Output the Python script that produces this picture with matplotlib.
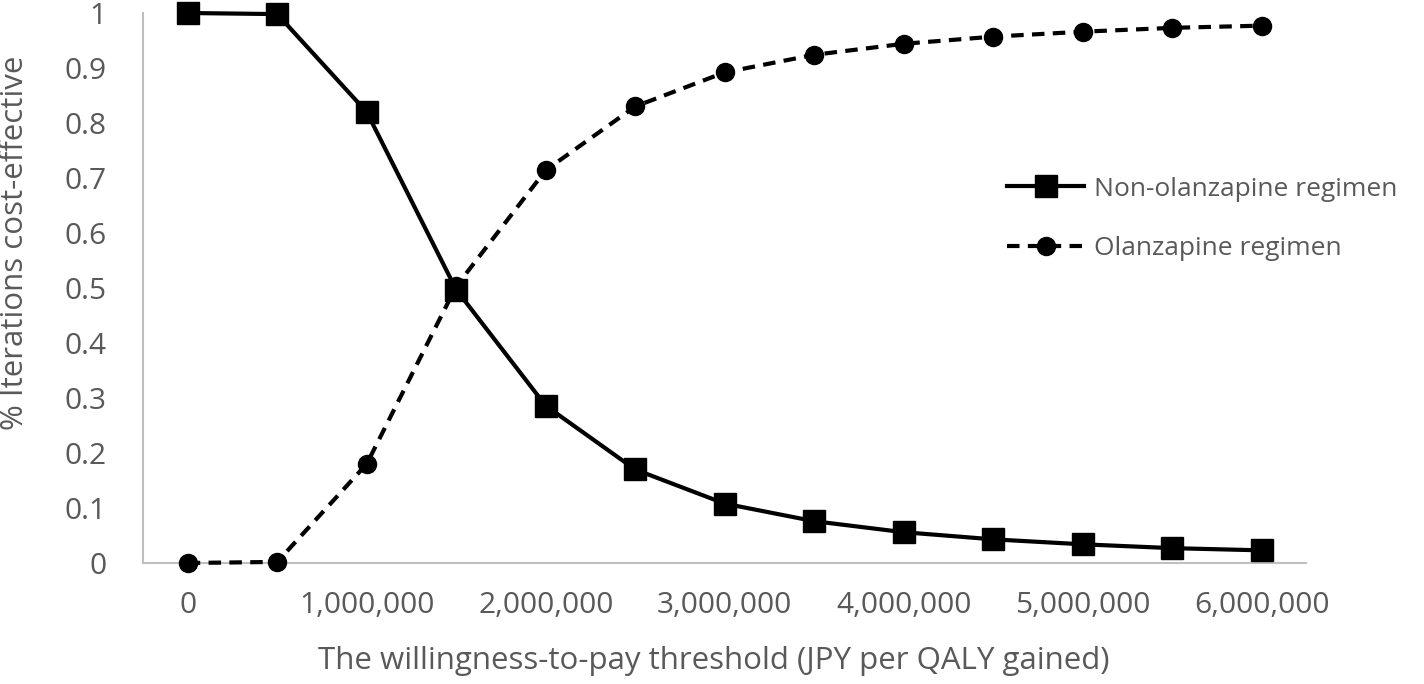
import matplotlib
matplotlib.use("Agg")
import matplotlib.pyplot as plt

wtp_labels = ["0", "", "1,000,000", "", "2,000,000", "", "3,000,000", "",
              "4,000,000", "", "5,000,000", "", "6,000,000"]
non_olanzapine = [1.0, 0.998, 0.82, 0.497, 0.286, 0.17, 0.108, 0.076, 0.056, 0.043, 0.034, 0.027, 0.023]
olanzapine = [0.0, 0.002, 0.18, 0.503, 0.714, 0.83, 0.892, 0.924, 0.944, 0.957, 0.966, 0.973, 0.977]
y_ticks = [0, 0.1, 0.2, 0.3, 0.4, 0.5, 0.6, 0.7, 0.8, 0.9, 1]
y_tick_labels = ["0", "0.1", "0.2", "0.3", "0.4", "0.5", "0.6", "0.7", "0.8", "0.9", "1"]

plt.rcParams['font.family'] = ['Open Sans', 'DejaVu Sans']
gray = '#595959'

fig = plt.figure(figsize=(14.24, 6.84), dpi=100)
ax = fig.add_axes([0.1004, 0.1769, 0.8170, 0.8041])
x = list(range(len(non_olanzapine)))

ax.plot(x, non_olanzapine, color='black', lw=3, marker='s', markersize=16,
        label='Non-olanzapine regimen', clip_on=False, zorder=3)
ax.plot(x, olanzapine, color='black', lw=3, linestyle=(0, (3, 2)), marker='o',
        markersize=13, label='Olanzapine regimen', clip_on=False, zorder=3)

ax.set_xlim(-0.5, len(x) - 0.5)
ax.set_ylim(0, 1)
ax.set_xticks(x)
ax.set_xticklabels(wtp_labels)
ax.set_yticks(y_ticks)
ax.set_yticklabels(y_tick_labels)
ax.tick_params(length=0, labelsize=21.5, colors=gray)
ax.tick_params(axis='x', pad=20)
ax.tick_params(axis='y', pad=26)
for s in ['top', 'right']:
    ax.spines[s].set_visible(False)
for s in ['left', 'bottom']:
    ax.spines[s].set_color('#bfbfbf')
    ax.spines[s].set_linewidth(1.5)

ax.set_xlabel('The willingness-to-pay threshold (JPY per QALY gained)', fontsize=22.5, color=gray)
ax.set_ylabel('% Iterations cost-effective', fontsize=22.5, color=gray)
ax.xaxis.set_label_coords(0.491, -0.150)
ax.yaxis.set_label_coords(-0.097, 0.582)

leg = ax.legend(loc='upper left', bbox_to_anchor=(0.727, 0.736), frameon=False, fontsize=19,
                labelcolor=gray, handlelength=2.9, labelspacing=1.3, handletextpad=0.38,
                borderpad=0.2)

fig.savefig('out.png', dpi=100)
